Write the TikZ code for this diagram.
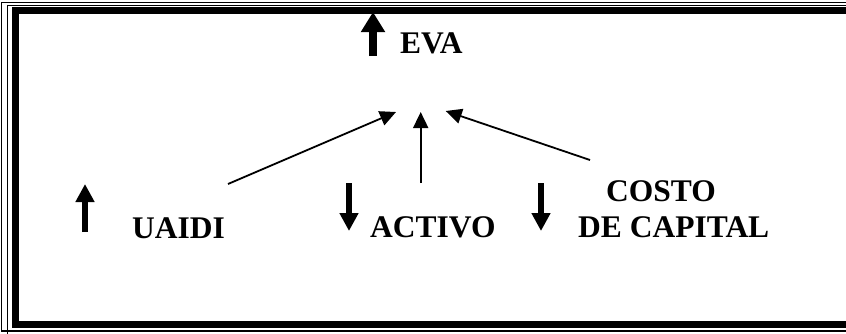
\documentclass[tikz,border=0pt]{standalone}
\usepackage{fontspec}
\setmainfont{Liberation Serif}
\usetikzlibrary{arrows.meta}
\tikzset{
  lbl/.style={anchor=base west, inner sep=0pt, font=\fontsize{31.5}{36}\selectfont\bfseries},
  conn/.style={line width=1.8pt, -{Triangle[length=16pt,width=15pt]}},
  blockup/.style={line width=6pt, -{Triangle[length=18pt,width=18pt]}},
  bigup/.style={line width=7.5pt, -{Triangle[length=20pt,width=23pt]}},
  frthin/.style={line width=1.2pt},
  frthick/.style={line width=7pt}
}
\begin{document}
\begin{tikzpicture}[x=1pt,y=-1pt]
\useasboundingbox (0,0) rectangle (846,333);
% frame
\draw[frthin] (847,2.5) -- (1.5,2.5) -- (1.5,331) -- (847,331);
\draw[line width=1pt] (847,5.3) -- (7.5,5.3) -- (7.5,334);
\draw[frthick,line join=miter] (847,10.5) -- (15,10.5) -- (15,324.5) -- (847,324.5);
% labels
\node[lbl] (eva) at (400,53) {EVA};
\node[lbl] (uaidi) at (132,238) {UAIDI};
\node[lbl] (activo) at (370,237) {ACTIVO};
\node[lbl] (costo) at (606,201) {COSTO};
\node[lbl] (capital) at (578,237) {DE CAPITAL};
% block arrows
\coordinate (evaB) at (373,56); \coordinate (evaT) at (373,12);
\draw[bigup] (evaB) -- (evaT);
\coordinate (uB) at (85,232); \coordinate (uT) at (85,184);
\draw[blockup] (uB) -- (uT);
\coordinate (aT) at (349,183); \coordinate (aB) at (349,231);
\draw[blockup] (aT) -- (aB);
\coordinate (cT) at (541,183); \coordinate (cB) at (541,231);
\draw[blockup] (cT) -- (cB);
% connectors
\coordinate (s1) at (228,184); \coordinate (t1) at (396,112);
\coordinate (s2) at (420.7,183); \coordinate (t2) at (420.7,112);
\coordinate (s3) at (590,160); \coordinate (t3) at (445.7,111);
\draw[conn] (s1) -- (t1);
\draw[conn] (s2) -- (t2);
\draw[conn] (s3) -- (t3);
\end{tikzpicture}
\end{document}
